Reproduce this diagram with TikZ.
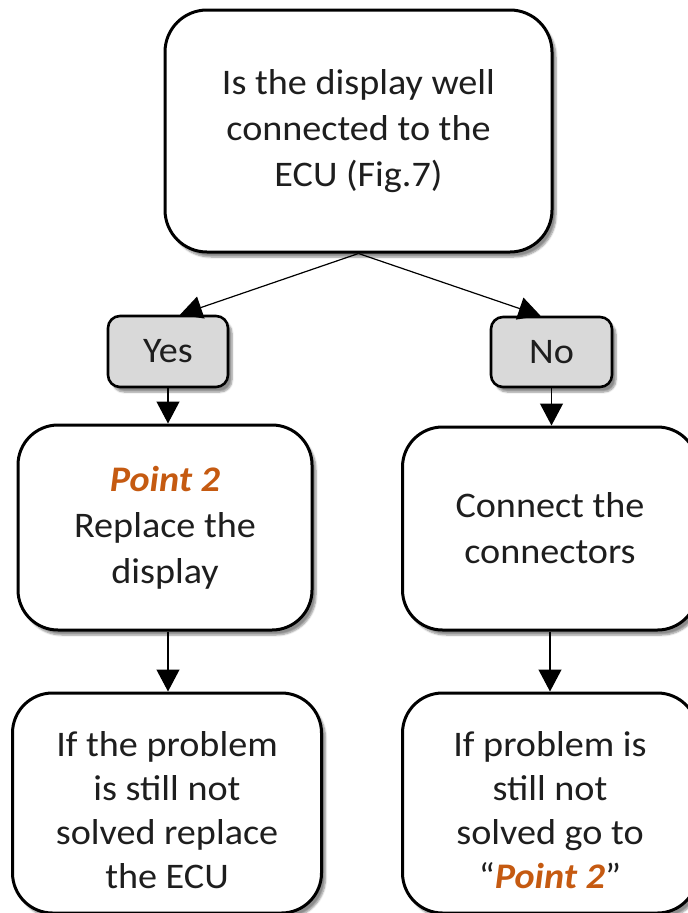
\documentclass[tikz,border=0pt]{standalone}
\usepackage{fontspec}
\setmainfont{Carlito}[FakeStretch=1.06]
\usetikzlibrary{arrows.meta,shadows.blur}
\definecolor{ptorange}{HTML}{C55A11}
\definecolor{ansgray}{HTML}{D9D9D9}
\definecolor{txt}{HTML}{1E1E1E}
\tikzset{
  box/.style={draw=black, line width=3pt, fill=white, align=center, text=txt,
    inner sep=0pt, font=\fontsize{36}{46}\selectfont,
    blur shadow={shadow xshift=4pt, shadow yshift=-5pt, shadow blur steps=6, shadow opacity=45}},
  bigbox/.style={box, rounded corners=42pt},
  answer/.style={box, rounded corners=12pt, fill=ansgray, line width=2.6pt},
  flow/.style={draw=black, line width=1.2pt, -{Triangle[width=23pt,length=22pt]}},
  boxtext/.style={align=center, text=txt, font=\fontsize{36}{44}\selectfont},
}
\newcommand{\pointtwo}{\textcolor{ptorange}{\textbf{\textit{Point 2}}}}
\begin{document}
\begin{tikzpicture}[x=1pt,y=-1pt]
\useasboundingbox (0,0) rectangle (688,913);
\begin{scope}
\clip (0,0) rectangle (688,913);
\node[bigbox, minimum width=387pt, minimum height=242pt] (top) at (358.5,131)
  {Is the display well\\connected to the\\ECU (Fig.7)};
\node[answer, minimum width=120pt, minimum height=71pt] (yes) at (168,351.5) {Yes};
\node[answer, minimum width=121pt, minimum height=70pt] (no) at (551.5,352) {No};
\node[bigbox, rounded corners=40pt, minimum width=294pt, minimum height=205pt] (p2) at (165,527.5)
  {\pointtwo\\Replace the\\display};
\node[bigbox, rounded corners=40pt, minimum width=295pt, minimum height=203pt] (conn) at (550,528.5)
  {Connect the\\connectors};
\node[bigbox, rounded corners=40pt, minimum width=309pt, minimum height=220pt] (bl) at (167,803) {};
\node[bigbox, rounded corners=40pt, minimum width=295pt, minimum height=220pt] (br) at (550,803) {};
\node[boxtext] (bltext) at (167,810)
  {If the problem\\is still not\\solved replace\\the ECU};
\node[boxtext] (brtext) at (550,810)
  {If problem is\\still not\\solved go to\\``\pointtwo''};
\draw[flow] (top.south) -- ([xshift=12pt]yes.north);
\draw[flow] (top.south) -- ([xshift=-11pt]no.north);
\draw[flow] (yes.south) -- (yes.south |- p2.north);
\draw[flow] (no.south) -- (no.south |- conn.north);
\draw[flow] ([xshift=3pt]p2.south) -- ([xshift=3pt]p2.south |- bl.north);
\draw[flow] (conn.south) -- (conn.south |- br.north);
\end{scope}
\end{tikzpicture}
\end{document}
